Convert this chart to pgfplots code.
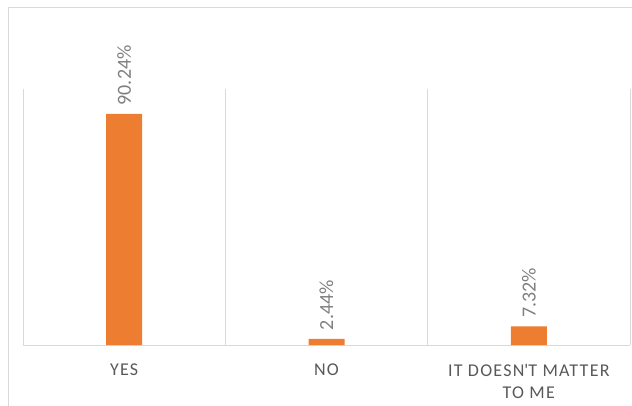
\documentclass[border=0pt]{standalone}
\usepackage{pgfplots}
\pgfplotsset{compat=1.18}
\usepackage{fontspec}
\setmainfont{Carlito}
\newfontfamily\catfont[LetterSpace=7]{Carlito}
\definecolor{barorange}{HTML}{ED7D31}
\definecolor{gridgray}{HTML}{D9D9D9}
\definecolor{framegray}{HTML}{D9D9D9}
\definecolor{catgray}{HTML}{595959}
\definecolor{lblgray}{HTML}{7F7F7F}
\begin{document}
\begin{tikzpicture}
\useasboundingbox (0,0) rectangle (632pt,405pt);
\draw[framegray, line width=1pt] (8.5pt,-5pt) -- (8.5pt,397pt) -- (640pt,397pt);
\begin{axis}[
  at={(23pt,60pt)}, anchor=south west,
  scale only axis, width=607pt, height=256pt,
  xmin=-0.5, xmax=2.5, ymin=0, ymax=100,
  clip=false,
  axis y line=none,
  axis x line=bottom,
  x axis line style={draw=gridgray, line width=0.8pt, -},
  ytick=\empty,
  xtick={0,1,2},
  xticklabels={YES,NO,{IT DOESN\textquotesingle T MATTER\\TO ME}},
  major tick length=0pt,
  minor tick length=0pt,
  minor xtick={-0.5,0.5,1.5,2.5},
  xminorgrids=true,
  minor grid style={draw=gridgray, line width=0.8pt},
  xticklabel style={font=\catfont\fontsize{18}{22.3}\selectfont, text=catgray, align=center, anchor=north, inner sep=0pt, yshift=-19pt},
  /pgf/number format/assume math mode=true,
  ybar, bar width=36pt,
  nodes near coords={\pgfmathprintnumber[fixed,precision=2,fixed zerofill]{\pgfplotspointmeta}\%},
  every node near coord/.append style={font=\fontsize{20}{24}\selectfont, text=lblgray, rotate=90, anchor=west, inner xsep=8.5pt, inner ysep=0pt},
]
\addplot[fill=barorange, draw=none] coordinates {(0,90.24) (1,2.44) (2,7.32)};
\end{axis}
\end{tikzpicture}
\end{document}
